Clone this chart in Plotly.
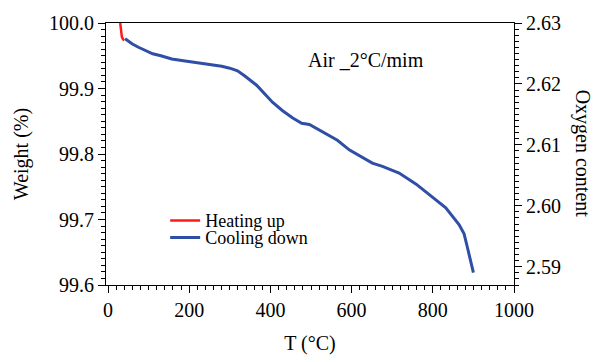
import plotly.graph_objects as go

# Data
heat_T = [30, 31, 32, 34, 37, 40]
heat_W = [100.0, 99.992, 99.985, 99.979, 99.975, 99.974]

cool_T = [42, 60, 75, 91, 110, 130, 157, 190, 238, 280, 300, 319, 337, 366, 405,
          430, 455, 477, 496, 520, 538, 565, 595, 625, 651, 676, 717, 759, 799,
          832, 865, 877, 885, 897, 900]
cool_W = [99.976, 99.968, 99.963, 99.958, 99.953, 99.950, 99.945, 99.942, 99.938,
          99.934, 99.931, 99.927, 99.919, 99.905, 99.879, 99.866, 99.855, 99.847,
          99.845, 99.837, 99.830, 99.821, 99.806, 99.795, 99.786, 99.781, 99.771,
          99.754, 99.735, 99.718, 99.692, 99.678, 99.658, 99.624, 99.619]

x_ticks = [0, 200, 400, 600, 800, 1000]
y_ticks = [99.6, 99.7, 99.8, 99.9, 100.0]
y2_ticks = [2.59, 2.60, 2.61, 2.62, 2.63]

X_RANGE = [-5, 1000]
Y_RANGE = [99.6, 100.0]
Y2_RANGE = [2.587, 2.63]

FONT = "Liberation Serif"
TF = dict(family=FONT, size=20, color="black")
CLEAR = "rgba(0,0,0,0)"

fig = go.Figure()
fig.add_trace(go.Scatter(x=heat_T, y=heat_W, mode="lines", name="Heating up",
                         line=dict(color="#ff1a1a", width=2.5), legend="legend"))
fig.add_trace(go.Scatter(x=cool_T, y=cool_W, mode="lines", name="Cooling down",
                         line=dict(color="#2f4fa6", width=3), legend="legend2"))
fig.add_trace(go.Scatter(x=[None], y=[None], yaxis="y2", showlegend=False,
                         hoverinfo="skip"))

PH = 362 - 19 - 66
leg_common = dict(xanchor="left", yanchor="middle", bgcolor=CLEAR,
                  font=dict(size=18, family=FONT, color="black"), itemwidth=30)
fig.update_layout(
    width=599, height=362,
    margin=dict(l=106, r=85, t=19, b=66),
    paper_bgcolor="white", plot_bgcolor="white",
    showlegend=True,
    legend=dict(x=0.145, y=(296 - 228) / PH, **leg_common),
    legend2=dict(x=0.145, y=(296 - 246) / PH, **leg_common),
    xaxis=dict(range=X_RANGE, dtick=x_ticks[1] - x_ticks[0],
               tickfont=TF, ticks="outside", ticklen=7, tickwidth=1,
               tickcolor="black", showline=True, linecolor="black", mirror=True,
               gridcolor=CLEAR, zerolinecolor=CLEAR,
               minor=dict(dtick=20, ticks="outside", ticklen=4, tickcolor="black"),
               title=dict(text="T (°C)", font=TF)),
    yaxis=dict(range=Y_RANGE, dtick=y_ticks[1] - y_ticks[0], tickformat=".1f",
               tickfont=TF, ticks="outside", ticklen=7, tickwidth=1,
               tickcolor="black", showline=True, linecolor="black",
               gridcolor=CLEAR, zerolinecolor=CLEAR,
               minor=dict(dtick=0.01, ticks="outside", ticklen=4, tickcolor="black"),
               title=dict(text="Weight (%)", font=TF)),
    yaxis2=dict(range=Y2_RANGE, overlaying="y", side="right", anchor="x",
                dtick=round(y2_ticks[1] - y2_ticks[0], 3), tickformat=".2f",
                tickfont=TF, ticks="outside", ticklen=7, tickwidth=1,
                tickcolor="black", showline=True, linecolor="black",
                gridcolor=CLEAR, zerolinecolor=CLEAR,
                minor=dict(dtick=0.001, ticks="outside", ticklen=4, tickcolor="black")),
    annotations=[
        dict(text="Air _2°C/mim", xref="paper", yref="paper", x=0.49, y=0.86,
             xanchor="left", yanchor="middle", showarrow=False, font=TF),
        dict(text="Oxygen content", xref="paper", yref="paper", x=1.17, y=0.5,
             textangle=90, showarrow=False, xanchor="center", yanchor="middle",
             font=TF),
    ],
)
fig.write_html("out.html")
